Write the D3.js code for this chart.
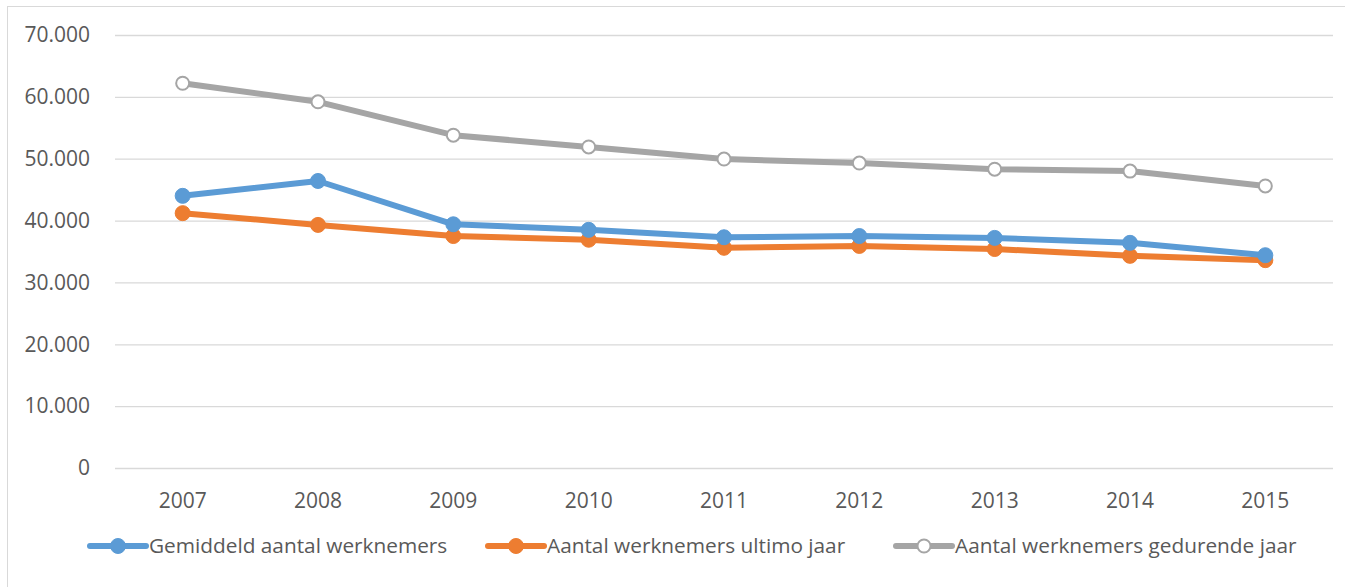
<!DOCTYPE html>
<html>
<head>
<meta charset="utf-8">
<script src="https://cdn.jsdelivr.net/npm/d3@7"></script>
<style>
  body { margin: 0; background: #fff; }
  text { font-family: "Open Sans", "Noto Sans", sans-serif; fill: #595959; }
</style>
</head>
<body>
<div id="chart"></div>
<script>
// chart size
var svgWidth = 1345;
var svgHeight = 587;

// data
var years = ["2007", "2008", "2009", "2010", "2011", "2012", "2013", "2014", "2015"];
var gemiddeld = [44000, 46400, 39400, 38500, 37300, 37500, 37200, 36400, 34400];
var ultimo = [41200, 39300, 37500, 36900, 35600, 35900, 35400, 34300, 33600];
var gedurende = [62200, 59200, 53800, 51900, 49950, 49300, 48300, 48000, 45600];
var yTicks = [0, 10000, 20000, 30000, 40000, 50000, 60000, 70000];
var seriesNames = ["Gemiddeld aantal werknemers", "Aantal werknemers ultimo jaar", "Aantal werknemers gedurende jaar"];

var series = [
  { name: seriesNames[0], values: gemiddeld, color: "#5b9bd5", hollow: false },
  { name: seriesNames[1], values: ultimo, color: "#ed7d31", hollow: false },
  { name: seriesNames[2], values: gedurende, color: "#a5a5a5", hollow: true }
];

var margin = { top: 35, right: 12, bottom: 119, left: 115 };
var chartWidth = svgWidth - margin.left - margin.right;
var chartHeight = svgHeight - margin.top - margin.bottom;

var svg = d3.select("#chart")
  .append("svg")
  .attr("width", svgWidth)
  .attr("height", svgHeight);

// outer chart border
svg.append("rect")
  .attr("x", 7.5)
  .attr("y", 6.5)
  .attr("width", svgWidth)
  .attr("height", svgHeight)
  .attr("fill", "none")
  .attr("stroke", "#d9d9d9");

var chartGroup = svg.append("g")
  .attr("transform", `translate(${margin.left}, ${margin.top})`);

var xScale = d3.scaleBand()
  .domain(years)
  .range([0, chartWidth]);

var yScale = d3.scaleLinear()
  .domain([0, 70000])
  .range([chartHeight, 0]);

var fmt = function(d) {
  return d === 0 ? "0" : d3.format(",")(d).replace(/,/g, ".");
};

// gridlines + y labels
var yAxis = d3.axisLeft(yScale)
  .tickValues(yTicks)
  .tickSize(-chartWidth)
  .tickPadding(25)
  .tickFormat(fmt);

var yAxisG = chartGroup.append("g").call(yAxis);
yAxisG.select(".domain").remove();
yAxisG.selectAll("line").attr("stroke", "#d9d9d9").attr("stroke-width", 1.3);
yAxisG.selectAll("text").attr("font-size", 21).style("fill", "#595959");

var xAxis = d3.axisBottom(xScale).tickSize(0).tickPadding(25);
var xAxisG = chartGroup.append("g")
  .attr("transform", `translate(0,${chartHeight})`)
  .call(xAxis);
xAxisG.select(".domain").remove();
xAxisG.selectAll("text").attr("font-size", 21).style("fill", "#595959");

var line = d3.line()
  .x(function(d, i) { return xScale(years[i]) + xScale.bandwidth() / 2; })
  .y(function(d) { return yScale(d); });

series.slice().reverse().forEach(function(s) {
  chartGroup.append("path")
    .datum(s.values)
    .attr("d", line)
    .attr("fill", "none")
    .attr("stroke", s.color)
    .attr("stroke-width", 6)
    .attr("stroke-linejoin", "round");

  chartGroup.selectAll(null)
    .data(s.values)
    .enter()
    .append("circle")
    .attr("cx", function(d, i) { return xScale(years[i]) + xScale.bandwidth() / 2; })
    .attr("cy", function(d) { return yScale(d); })
    .attr("r", s.hollow ? 6.5 : 7.5)
    .attr("fill", s.hollow ? "#fff" : s.color)
    .attr("stroke", s.color)
    .attr("stroke-width", s.hollow ? 2 : 1);
});

// legend
var legendX = [90, 488, 896];
var legend = svg.append("g").attr("transform", "translate(0,546)");
series.forEach(function(s, i) {
  var g = legend.append("g").attr("transform", `translate(${legendX[i]},0)`);
  g.append("line")
    .attr("x1", 0).attr("x2", 56)
    .attr("stroke", s.color)
    .attr("stroke-width", 6)
    .attr("stroke-linecap", "round");
  g.append("circle")
    .attr("cx", 28)
    .attr("r", s.hollow ? 6.5 : 7.5)
    .attr("fill", s.hollow ? "#fff" : s.color)
    .attr("stroke", s.color)
    .attr("stroke-width", s.hollow ? 2 : 1);
  g.append("text")
    .attr("x", 59)
    .attr("dy", "0.35em")
    .attr("font-size", 20.8)
    .text(s.name);
});
</script>
</body>
</html>
